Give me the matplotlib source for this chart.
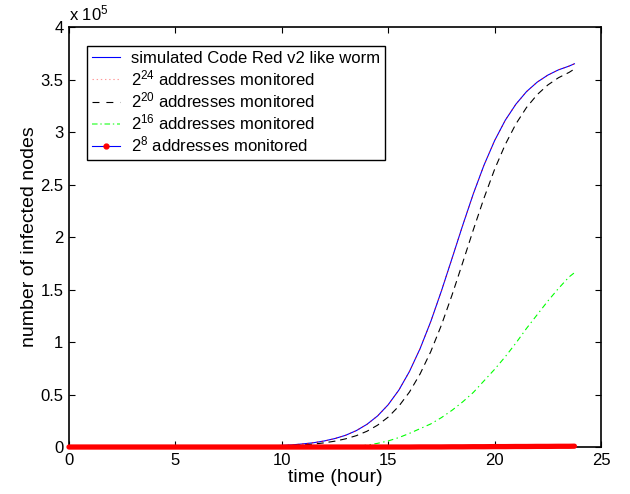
import matplotlib
matplotlib.use("Agg")
import matplotlib.pyplot as plt
from matplotlib.lines import Line2D
from matplotlib.ticker import FuncFormatter

plt.rcParams["font.family"] = ["Liberation Sans", "DejaVu Sans"]
plt.rcParams["mathtext.fontset"] = "custom"
plt.rcParams["mathtext.rm"] = "Liberation Sans"
plt.rcParams["mathtext.it"] = "Liberation Sans"
plt.rcParams["lines.scale_dashes"] = False

# time axis (hours) and infected counts (units of 1e5 hosts)
hours = [0, 8, 10, 10.5, 11, 11.5, 12, 12.5, 13, 13.5, 14, 14.5, 15, 15.5, 16,
         16.5, 17, 17.5, 18, 18.5, 19, 19.5, 20, 20.5, 21, 21.5, 22, 22.5,
         23, 23.5, 23.75]

worm = [0, 0.002, 0.015, 0.021, 0.030, 0.041, 0.058, 0.081, 0.112, 0.156, 0.216,
        0.296, 0.403, 0.542, 0.720, 0.938, 1.195, 1.486, 1.797, 2.111, 2.412,
        2.684, 2.918, 3.112, 3.265, 3.385, 3.475, 3.542, 3.592, 3.628, 3.650]

mon_2_24 = [0, 0.002, 0.015, 0.021, 0.030, 0.041, 0.058, 0.081, 0.112, 0.156, 0.216,
            0.296, 0.403, 0.542, 0.720, 0.938, 1.195, 1.486, 1.797, 2.111, 2.412,
            2.684, 2.918, 3.112, 3.265, 3.385, 3.475, 3.542, 3.592, 3.628, 3.650]

mon_2_20 = [0, 0.001, 0.010, 0.014, 0.020, 0.028, 0.040, 0.056, 0.078, 0.108, 0.150,
            0.208, 0.285, 0.389, 0.524, 0.697, 0.909, 1.161, 1.448, 1.756, 2.069,
            2.370, 2.645, 2.881, 3.077, 3.234, 3.356, 3.448, 3.517, 3.568, 3.600]

mon_2_16 = [0, 0, 0, 0, 0, 0, 0, 0, 0, 0.005, 0.018, 0.035, 0.058, 0.090, 0.130,
            0.175, 0.220, 0.280, 0.350, 0.430, 0.520, 0.630, 0.740, 0.860, 0.990,
            1.130, 1.260, 1.390, 1.510, 1.620, 1.660]

mon_2_8 = [0, 0, 0, 0, 0, 0, 0, 0, 0, 0, 0, 0, 0, 0, 0,
           0.001, 0.001, 0.001, 0.002, 0.002, 0.003, 0.003, 0.004, 0.004, 0.005,
           0.005, 0.006, 0.006, 0.007, 0.007, 0.008]

labels = ["simulated Code Red v2 like worm",
          "2$^{24}$ addresses monitored",
          "2$^{20}$ addresses monitored",
          "2$^{16}$ addresses monitored",
          "2$^{8}$ addresses monitored"]

scale = 1e5

fig = plt.figure(figsize=(6.3, 4.94), dpi=100)
ax = fig.add_axes([0.1095, 0.0951, 0.8445, 0.8502])

ax.plot(hours, [v * scale for v in worm], color="blue", lw=0.8)
ax.plot(hours, [v * scale for v in mon_2_24], color="red", lw=0.6, ls=(0, (1, 2.5)))
ax.plot(hours, [v * scale for v in mon_2_20], color="black", lw=0.8, ls=(0, (5, 3.5)))
ax.plot(hours, [v * scale for v in mon_2_16], color="#00ff00", lw=0.8,
        ls=(0, (4, 2.5, 1, 2.5)))
# 2^8 curve: dense red dot markers merge into a thick band
ax.plot(hours, [v * scale for v in mon_2_8], color="red", lw=3.8,
        solid_capstyle="round", clip_on=False, zorder=5)

ax.set_xlim(0, 25)
ax.set_ylim(0, 4e5)
ax.set_xticks([0, 5, 10, 15, 20, 25])
ax.set_yticks([i * 0.5e5 for i in range(9)])
ax.yaxis.set_major_formatter(FuncFormatter(lambda v, p: f"{v / scale:g}"))
ax.tick_params(direction="in", length=4, width=0.8, top=True, right=True,
               labelsize=12, pad=4)
for s in ax.spines.values():
    s.set_linewidth(1.2)

ax.set_xlabel("time (hour)", fontsize=14, labelpad=1)
ax.set_ylabel("number of infected nodes", fontsize=14, labelpad=2)
ax.text(0, 1.008, "x 10$^5$", transform=ax.transAxes, fontsize=12,
        ha="left", va="bottom")

handles = [
    Line2D([], [], color="blue", lw=0.8),
    Line2D([], [], color="#ff9999", lw=0.8, ls=(0, (1, 2))),
    Line2D([], [], color="black", lw=0.8, ls=(0, (5, 5))),
    Line2D([], [], color="#66ff66", lw=1.2, ls=(0, (4, 2, 1, 2))),
    Line2D([], [], color="blue", lw=0.8, marker=".", mfc="red", mec="red", ms=7),
]
leg = ax.legend(handles, labels, loc="upper left", bbox_to_anchor=(0.033, 0.955),
                borderaxespad=0, fontsize=12, handlelength=1.7, handletextpad=0.65,
                labelspacing=0.14, borderpad=0.3, fancybox=False, framealpha=1,
                edgecolor="black", numpoints=1)
leg.get_frame().set_linewidth(1.0)

fig.savefig("out.png", dpi=100)
